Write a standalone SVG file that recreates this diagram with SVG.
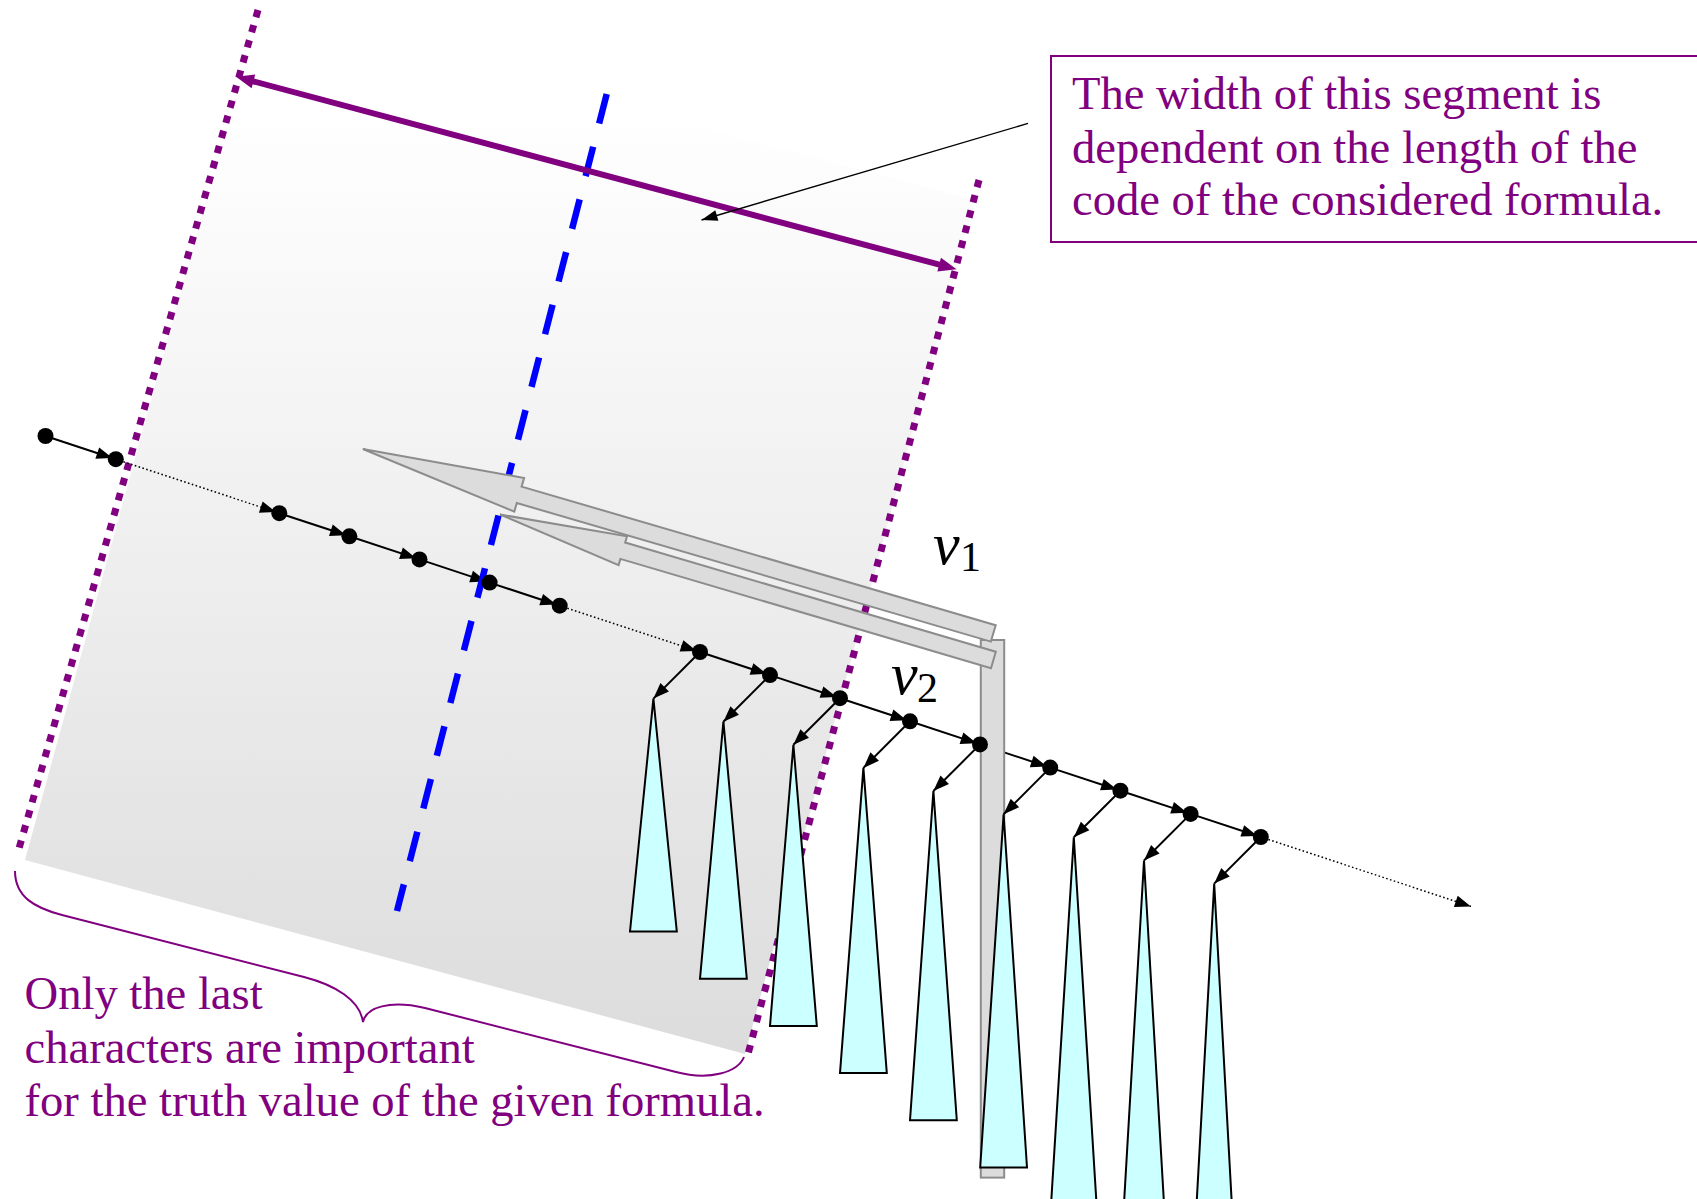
<svg xmlns="http://www.w3.org/2000/svg" width="1697" height="1199" viewBox="0 0 1697 1199">
<defs>
<linearGradient id="gfill" gradientUnits="userSpaceOnUse" x1="0" y1="110" x2="0" y2="1054">
<stop offset="0" stop-color="#ffffff"/>
<stop offset="1" stop-color="#dcdcdc"/>
</linearGradient>
<marker id="ah" markerUnits="userSpaceOnUse" markerWidth="16" markerHeight="12" refX="19.5" refY="6" orient="auto" overflow="visible">
<path d="M0,0 L16,6 L0,12 z" fill="#000"/>
</marker>
<marker id="ah2" markerUnits="userSpaceOnUse" markerWidth="16" markerHeight="12" refX="16" refY="6" orient="auto" overflow="visible">
<path d="M0,0 L16,6 L0,12 z" fill="#000"/>
</marker>
<marker id="ahc" markerUnits="userSpaceOnUse" markerWidth="16" markerHeight="11" refX="16" refY="5.5" orient="auto" overflow="visible">
<path d="M0,0 L16,5.5 L0,11 z" fill="#000"/>
</marker>
<marker id="ahp" markerUnits="userSpaceOnUse" markerWidth="18" markerHeight="14" refX="8" refY="7" orient="auto-start-reverse" overflow="visible">
<path d="M0,0 L18,7 L0,14 z" fill="#800080"/>
</marker>
</defs>
<style>
.dotp{fill:none;stroke:#800080;stroke-width:7;stroke-dasharray:7.5 8.2}
.blue{fill:none;stroke:#0000ff;stroke-width:6.5;stroke-dasharray:30.4 24}
.edge{fill:none;stroke:#000;stroke-width:2;marker-end:url(#ah)}
.edged{fill:none;stroke:#000;stroke-width:1.5;stroke-dasharray:1.6 2.4;marker-end:url(#ah)}
.down{fill:none;stroke:#000;stroke-width:2;marker-end:url(#ah2)}
.tri{fill:#ccffff;stroke:#000;stroke-width:2}
.dot{fill:#000}
.garrow{fill:#dcdcdc;stroke:#8c8c8c;stroke-width:2}
.txt{font-family:"Liberation Serif","Times New Roman",serif;font-size:46.6px;fill:#800080}
.lab{font-family:"Liberation Serif","Times New Roman",serif;fill:#000}
</style>

<g id="segment">
<polygon points="258,10 975,200 745,1054 25,860" fill="url(#gfill)"/>
<line class="dotp" x1="258" y1="10" x2="18" y2="852"/>
<line class="dotp" x1="979" y1="180" x2="747" y2="1058"/>
</g>

<g id="connectors">
<line class="edge" x1="45.5" y1="436" x2="115.8" y2="459.2"/>
<line class="edged" x1="115.8" y1="459.2" x2="279.3" y2="513.2"/>
<line class="edge" x1="279.3" y1="513.2" x2="349.4" y2="536.3"/>
<line class="edge" x1="349.4" y1="536.3" x2="419.5" y2="559.4"/>
<line class="edge" x1="419.5" y1="559.4" x2="489.6" y2="582.6"/>
<line class="edge" x1="489.6" y1="582.6" x2="559.7" y2="605.7"/>
<line class="edged" x1="559.7" y1="605.7" x2="700" y2="652"/>
<line class="edge" x1="700" y1="652" x2="770" y2="675.1"/>
<line class="edge" x1="770" y1="675.1" x2="840" y2="698.2"/>
<line class="edge" x1="840" y1="698.2" x2="910" y2="721.3"/>
<line class="edge" x1="910" y1="721.3" x2="980" y2="744.4"/>
<line class="edge" x1="980" y1="744.4" x2="1050.2" y2="767.6"/>
<line class="edge" x1="1050.2" y1="767.6" x2="1120.4" y2="790.7"/>
<line class="edge" x1="1120.4" y1="790.7" x2="1190.6" y2="813.9"/>
<line class="edge" x1="1190.6" y1="813.9" x2="1260.8" y2="837"/>
<line class="edged" x1="1260.8" y1="837" x2="1471" y2="906.4" style="marker-end:url(#ah2)"/>
</g>

<g id="axis">
<line class="blue" x1="606.7" y1="94" x2="397" y2="911"/>
</g>

<g id="vbar">
<rect x="980.8" y="640" width="23.4" height="537.6" class="garrow"/>
</g>

<g id="arrow-v1">
<polygon class="garrow" points="362.8,449 524.1,478 521.6,486.6 995.7,625.2 990.9,641.6 516.8,503 514.3,511.6"/>
</g>
<g id="arrow-v2">
<polygon class="garrow" points="500,514.5 627,536.3 625.2,542.5 995.8,651.8 991,668.2 620.4,558.9 618.6,565.1"/>
</g>

<g id="trees">
<polygon class="tri" points="653.4,698.6 630,931.5 676.8,931.5"/>
<polygon class="tri" points="723.4,721.7 700,978.7 746.8,978.7"/>
<polygon class="tri" points="793.4,744.8 770,1025.9 816.8,1025.9"/>
<polygon class="tri" points="863.4,767.9 840,1073.1 886.8,1073.1"/>
<polygon class="tri" points="933.4,791 910,1120.3 956.8,1120.3"/>
<polygon class="tri" points="1003.6,814.2 980.2,1167.5 1027,1167.5"/>
<polygon class="tri" points="1073.8,837.3 1050.4,1214.7 1097.2,1214.7"/>
<polygon class="tri" points="1144,860.5 1120.6,1261.9 1167.4,1261.9"/>
<polygon class="tri" points="1214.2,883.6 1190.8,1309.1 1237.6,1309.1"/>
</g>

<g id="down-connectors">
<line class="down" x1="700" y1="652" x2="653.4" y2="698.6"/>
<line class="down" x1="770" y1="675.1" x2="723.4" y2="721.7"/>
<line class="down" x1="840" y1="698.2" x2="793.4" y2="744.8"/>
<line class="down" x1="910" y1="721.3" x2="863.4" y2="767.9"/>
<line class="down" x1="980" y1="744.4" x2="933.4" y2="791"/>
<line class="down" x1="1050.2" y1="767.6" x2="1003.6" y2="814.2"/>
<line class="down" x1="1120.4" y1="790.7" x2="1073.8" y2="837.3"/>
<line class="down" x1="1190.6" y1="813.9" x2="1144" y2="860.5"/>
<line class="down" x1="1260.8" y1="837" x2="1214.2" y2="883.6"/>
</g>

<g id="nodes">
<circle class="dot" cx="45.5" cy="436" r="8"/>
<circle class="dot" cx="115.8" cy="459.2" r="8"/>
<circle class="dot" cx="279.3" cy="513.2" r="8"/>
<circle class="dot" cx="349.4" cy="536.3" r="8"/>
<circle class="dot" cx="419.5" cy="559.4" r="8"/>
<circle class="dot" cx="489.6" cy="582.6" r="8"/>
<circle class="dot" cx="559.7" cy="605.7" r="8"/>
<circle class="dot" cx="700" cy="652" r="8"/>
<circle class="dot" cx="770" cy="675.1" r="8"/>
<circle class="dot" cx="840" cy="698.2" r="8"/>
<circle class="dot" cx="910" cy="721.3" r="8"/>
<circle class="dot" cx="980" cy="744.4" r="8"/>
<circle class="dot" cx="1050.2" cy="767.6" r="8"/>
<circle class="dot" cx="1120.4" cy="790.7" r="8"/>
<circle class="dot" cx="1190.6" cy="813.9" r="8"/>
<circle class="dot" cx="1260.8" cy="837" r="8"/>
</g>

<g id="width-arrow">
<line x1="245.7" y1="79.3" x2="946.9" y2="266.7" stroke="#800080" stroke-width="6" marker-start="url(#ahp)" marker-end="url(#ahp)"/>
</g>

<g id="callout">
<rect x="1051" y="56" width="680" height="186" fill="#ffffff" stroke="#800080" stroke-width="2"/>
<text class="txt" x="1072" y="109">The width of this segment is</text>
<text class="txt" x="1072" y="162.5">dependent on the length of the</text>
<text class="txt" x="1072" y="215">code of the considered formula.</text>
<line x1="1028" y1="123.4" x2="701.5" y2="220" stroke="#000" stroke-width="1.4" marker-end="url(#ahc)"/>
</g>

<g id="label-v1">
<text class="lab" x="933" y="563.5" font-size="60" font-style="italic">v</text>
<text class="lab" x="960" y="571" font-size="42">1</text>
</g>
<g id="label-v2">
<text class="lab" x="891" y="693.5" font-size="60" font-style="italic">v</text>
<text class="lab" x="917" y="701.5" font-size="42">2</text>
</g>

<g id="brace">
<path d="M15,871 C15,897 35,908 62,915 L304,977 C335,985 360,1000 363,1022 C366,1007 390,1000 425,1008 L676,1072 C710,1081 738,1072 744,1057" fill="none" stroke="#800080" stroke-width="2"/>
<text class="txt" x="24.5" y="1009">Only the last</text>
<text class="txt" x="24.5" y="1062.5">characters are important</text>
<text class="txt" x="24.5" y="1116">for the truth value of the given formula.</text>
</g>
</svg>
